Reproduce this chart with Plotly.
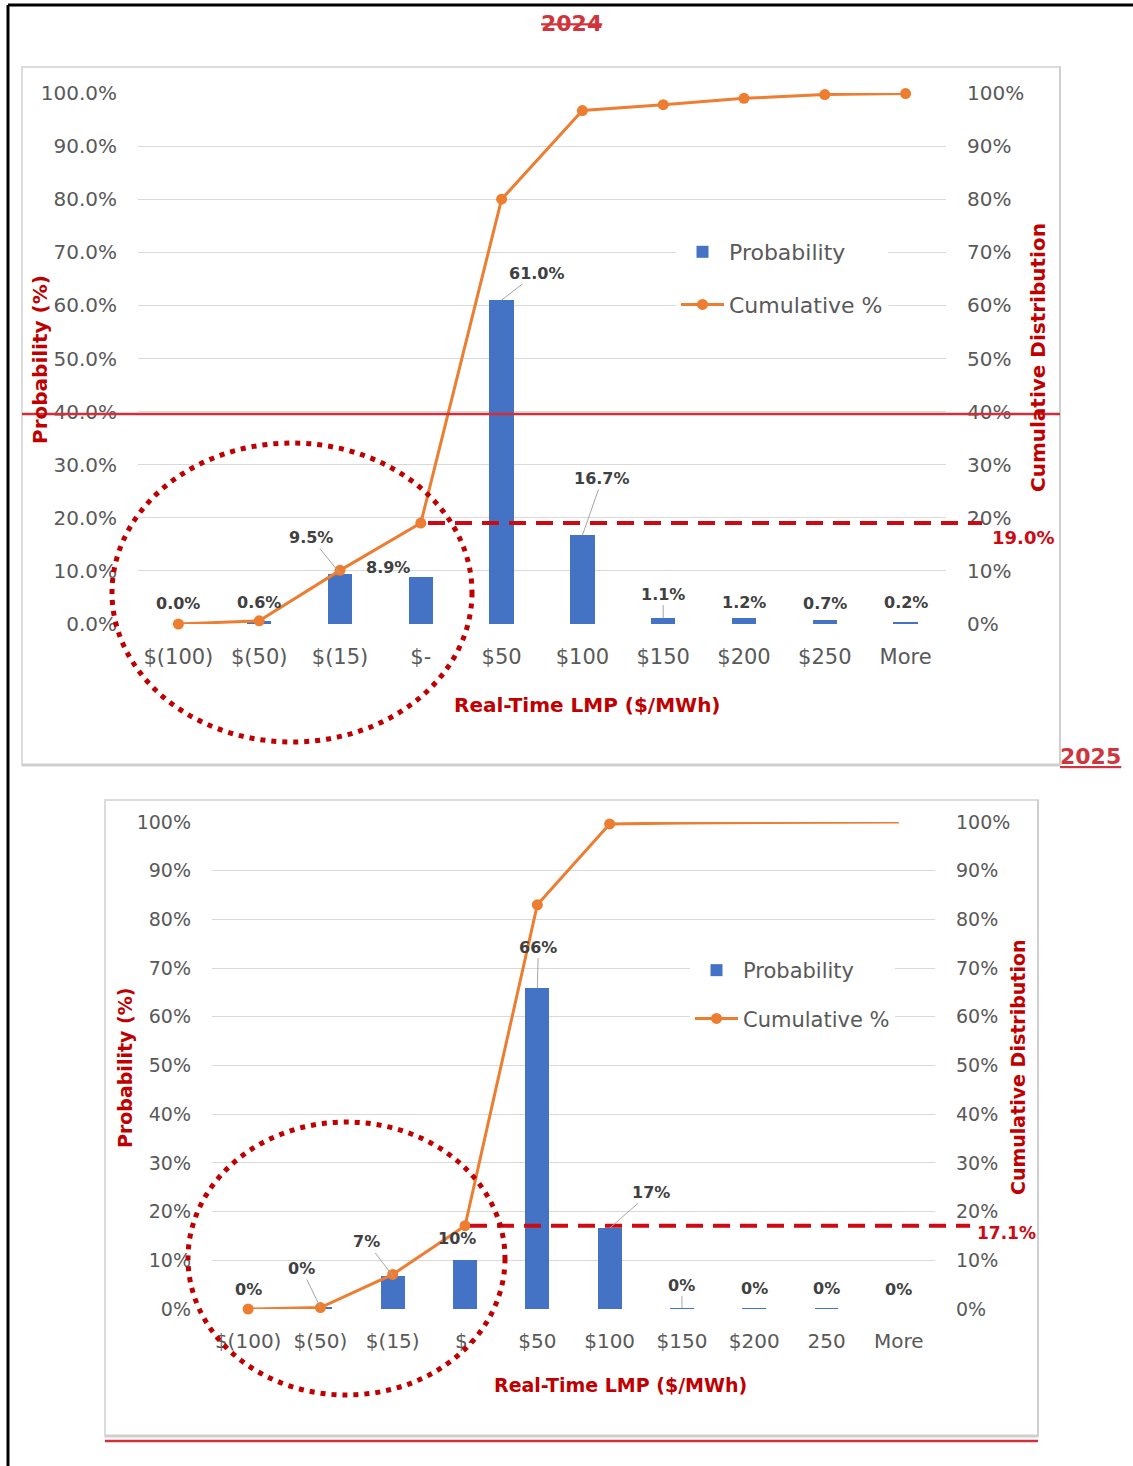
import plotly.graph_objects as go

W, H = 1133, 1466

# ---- data -------------------------------------------------------------
price_bins_2024 = ["$(100)", "$(50)", "$(15)", "$-", "$50", "$100", "$150", "$200", "$250", "More"]
probability_2024 = [0.0, 0.6, 9.5, 8.9, 61.0, 16.7, 1.1, 1.2, 0.7, 0.2]
cumulative_2024 = [0.0, 0.6, 10.1, 19.0, 80.0, 96.7, 97.8, 99.0, 99.7, 99.9]
threshold_2024 = 19.0

price_bins_2025 = ["$(100)", "$(50)", "$(15)", "$-", "$50", "$100", "$150", "$200", "250", "More"]
probability_2025 = [0.0, 0.3, 6.8, 10.0, 65.9, 16.6, 0.2, 0.1, 0.1, 0.0]
cumulative_2025 = [0.0, 0.3, 7.1, 17.1, 83.0, 99.6, 99.8, 99.9, 100.0, 100.0]
threshold_2025 = 17.1

pct_ticks = [0, 10, 20, 30, 40, 50, 60, 70, 80, 90, 100]

# ---- styling ----------------------------------------------------------
BLUE = "#4472c4"
ORANGE = "#ed7d31"
GRID = "#d9d9d9"
TICK_GREY = "#595959"
LABEL_GREY = "#404040"
DARK_RED = "#c00000"
TITLE_RED = "#d0343c"
DASH_RED = "#cc0a14"
CLEAR = "rgba(0,0,0,0)"


def px_x(x):
    return x / W


def px_y(y):
    return 1 - y / H


fig = go.Figure()

# ---- traces -----------------------------------------------------------
fig.add_trace(go.Bar(
    x=price_bins_2024, y=probability_2024, name="Probability",
    marker=dict(color=BLUE, line=dict(width=0)), width=0.3, xaxis="x", yaxis="y",
    legend="legend", legendgroup="p24",
))
fig.add_trace(go.Scatter(
    x=price_bins_2024, y=cumulative_2024, name="Cumulative %",
    mode="lines+markers", line=dict(color=ORANGE, width=3),
    marker=dict(color=ORANGE, size=11), cliponaxis=False,
    xaxis="x", yaxis="y2", legend="legend", legendgroup="c24",
))
fig.add_trace(go.Bar(
    x=price_bins_2025, y=probability_2025, name="Probability",
    marker=dict(color=BLUE, line=dict(width=0)), width=0.33, xaxis="x2", yaxis="y3",
    legend="legend2", legendgroup="p25",
))
# markers only up to $100; the flat tail is drawn as a plain line
fig.add_trace(go.Scatter(
    x=price_bins_2025, y=cumulative_2025, name="Cumulative %",
    mode="lines+markers", line=dict(color=ORANGE, width=3),
    marker=dict(color=[ORANGE] * 6 + [CLEAR] * 4, size=11), cliponaxis=False,
    xaxis="x2", yaxis="y4", legend="legend2", legendgroup="c25",
))

# ---- axes -------------------------------------------------------------
def x_axis(domain, anchor, cats, size):
    return dict(
        domain=domain, anchor=anchor, type="category",
        categoryorder="array", categoryarray=cats,
        range=[-0.5, len(cats) - 0.5], autorange=False, automargin=False,
        showgrid=False, zeroline=False, showline=False, ticks="",
        tickfont=dict(family="DejaVu Sans", size=size, color=TICK_GREY),
        ticklabelstandoff=18, tickangle=0,
    )


def y_axis(domain, anchor, decimals, size, side="left", overlaying=None, grid=True):
    ax = dict(
        domain=domain, anchor=anchor, range=[0, 100], autorange=False,
        automargin=False, side=side,
        tickmode="array", tickvals=pct_ticks,
        ticktext=[format(v, "." + str(decimals) + "f") + "%" for v in pct_ticks],
        showgrid=grid, gridcolor=GRID, gridwidth=1, zeroline=False,
        showline=False, ticks="",
        tickfont=dict(family="DejaVu Sans", size=size, color=TICK_GREY),
        ticklabelstandoff=20,
    )
    if overlaying:
        ax["overlaying"] = overlaying
    return ax


top_x = [px_x(138), px_x(946)]
top_y = [px_y(624), px_y(93)]
bot_x = [px_x(212), px_x(935)]
bot_y = [px_y(1309), px_y(822)]

fig.update_layout(
    xaxis=x_axis(top_x, "y", price_bins_2024, 21),
    yaxis=y_axis(top_y, "x", 1, 20),
    yaxis2=y_axis(top_y, "x", 0, 20, side="right", overlaying="y", grid=False),
    xaxis2=x_axis(bot_x, "y3", price_bins_2025, 20),
    yaxis3=y_axis(bot_y, "x2", 0, 19),
    yaxis4=y_axis(bot_y, "x2", 0, 19, side="right", overlaying="y3", grid=False),
)

# ---- legends ----------------------------------------------------------
legend_common = dict(
    xanchor="left", yanchor="top", bgcolor="white", borderwidth=0,
    itemwidth=43, traceorder="grouped",
)
fig.update_layout(
    legend=dict(x=px_x(676), y=px_y(231), tracegroupgap=21,
                font=dict(family="DejaVu Sans", size=22, color=TICK_GREY), **legend_common),
    legend2=dict(x=px_x(690), y=px_y(950), tracegroupgap=18,
                 font=dict(family="DejaVu Sans", size=21, color=TICK_GREY), **legend_common),
)

# ---- data labels ------------------------------------------------------
annotations = []


def value_labels(vals, xref, yref, fmt, offsets, size):
    # x is given as the category index so numeric-looking bins stay on their slot
    for idx, (val, (mode, dx, dy)) in enumerate(zip(vals, offsets)):
        text = "<b>" + format(val, fmt) + "%</b>"
        common = dict(x=idx, y=val, xref=xref, yref=yref, text=text,
                      font=dict(family="DejaVu Sans", size=size, color=LABEL_GREY))
        if mode == "lead":
            annotations.append(dict(showarrow=True, arrowhead=0, arrowwidth=1,
                                    arrowcolor="#a6a6a6", ax=dx, ay=dy, **common))
        else:
            annotations.append(dict(showarrow=False, xshift=dx, yshift=dy, **common))


offsets_2024 = [("shift", 0, 21), ("shift", 0, 18), ("lead", -29, -36), ("shift", -33, 9),
                ("lead", 35, -27), ("lead", 20, -57), ("lead", 0, -24), ("shift", 0, 15),
                ("shift", 0, 17), ("shift", 0, 20)]
offsets_2025 = [("shift", 0, 20), ("lead", -19, -39), ("lead", -26, -34), ("shift", -8, 22),
                ("lead", 1, -41), ("lead", 41, -36), ("lead", 0, -23), ("shift", 0, 20),
                ("shift", 0, 20), ("shift", 0, 20)]

value_labels(probability_2024, "x", "y", ".1f", offsets_2024, 16)
value_labels(probability_2025, "x2", "y3", ".0f", offsets_2025, 16)

# ---- axis titles & headings -------------------------------------------
def paper_text(x, y, text, size, color, angle=0, xanchor="center"):
    annotations.append(dict(
        x=px_x(x), y=px_y(y), xref="paper", yref="paper", text=text,
        showarrow=False, textangle=angle, xanchor=xanchor, yanchor="middle",
        font=dict(family="DejaVu Sans", size=size, color=color),
    ))


paper_text(571, 24, "<b><s>2024</s></b>", 22, TITLE_RED)
paper_text(1090, 756, "<b><u>2025</u></b>", 22, TITLE_RED)

paper_text(40, 360, "<b>Probability (%)</b>", 20, DARK_RED, angle=-90)
paper_text(1038, 358, "<b>Cumulative Distribution</b>", 20, DARK_RED, angle=-90)
paper_text(587, 705, "<b>Real-Time LMP ($/MWh)</b>", 20, DARK_RED)

paper_text(125, 1068, "<b>Probability (%)</b>", 19, DARK_RED, angle=-90)
paper_text(1018, 1068, "<b>Cumulative Distribution</b>", 19, DARK_RED, angle=-90)
paper_text(620, 1385, "<b>Real-Time LMP ($/MWh)</b>", 19, DARK_RED)

# threshold labels at the cumulative share below $0, set just under the line end
annotations.append(dict(x=px_x(990), y=threshold_2024, xref="paper", yref="y2", yshift=-14,
                        text="<b>" + format(threshold_2024, ".1f") + "%</b>", showarrow=False,
                        xanchor="left", font=dict(family="DejaVu Sans", size=18, color=DASH_RED)))
annotations.append(dict(x=px_x(975), y=threshold_2025, xref="paper", yref="y4", yshift=-7,
                        text="<b>" + format(threshold_2025, ".1f") + "%</b>", showarrow=False,
                        xanchor="left", font=dict(family="DejaVu Sans", size=17, color=DASH_RED)))

# ---- frame, panels and highlights ---------------------------------------
shapes = []


def paper_line(x0, y0, x1, y1, color, width, dash="solid", layer="above"):
    shapes.append(dict(type="line", xref="paper", yref="paper",
                       x0=px_x(x0), y0=px_y(y0), x1=px_x(x1), y1=px_y(y1),
                       line=dict(color=color, width=width, dash=dash), layer=layer))


def panel(x0, y0, x1, y1):
    shapes.append(dict(type="rect", xref="paper", yref="paper",
                       x0=px_x(x0), y0=px_y(y0), x1=px_x(x1), y1=px_y(y1),
                       line=dict(color="#dcdcdc", width=2), fillcolor=CLEAR,
                       layer="below"))
    paper_line(x0, y1, x1, y1, "#cfcfcf", 3, layer="below")
    paper_line(x1, y0, x1, y1, "#cfcfcf", 2, layer="below")


panel(22, 67, 1060, 765)
panel(105, 800, 1038, 1436)

# outer page frame
paper_line(8, 5, 1133, 5, "black", 3)
paper_line(8, 5, 8, 1466, "black", 3)

# red rules
paper_line(22, 414, 1060, 414, "#d32f3a", 2.5)
paper_line(105, 1441, 1038, 1441, "#d32f3a", 2.5)

# threshold dashed lines
shapes.append(dict(type="line", xref="paper", yref="y2", x0=px_x(428), x1=px_x(982),
                   y0=threshold_2024, y1=threshold_2024,
                   line=dict(color=DASH_RED, width=4, dash="17px,10px"), layer="above"))
shapes.append(dict(type="line", xref="paper", yref="y4", x0=px_x(470), x1=px_x(970),
                   y0=threshold_2025, y1=threshold_2025,
                   line=dict(color=DASH_RED, width=4, dash="17px,10px"), layer="above"))

# dotted ellipses around the negative-price bins
shapes.append(dict(type="circle", xref="paper", yref="paper",
                   x0=px_x(112), x1=px_x(472), y0=px_y(742), y1=px_y(443),
                   line=dict(color=DARK_RED, width=5, dash="5px,6px"), layer="above"))
shapes.append(dict(type="circle", xref="paper", yref="paper",
                   x0=px_x(188), x1=px_x(505), y0=px_y(1395), y1=px_y(1122),
                   line=dict(color=DARK_RED, width=5, dash="5px,6px"), layer="above"))

fig.update_layout(
    template="none",
    width=W, height=H, autosize=False,
    margin=dict(l=0, r=0, t=0, b=0, pad=0),
    paper_bgcolor="white", plot_bgcolor="white",
    showlegend=True, bargap=0,
    annotations=annotations, shapes=shapes,
)

fig.write_html("out.html")
